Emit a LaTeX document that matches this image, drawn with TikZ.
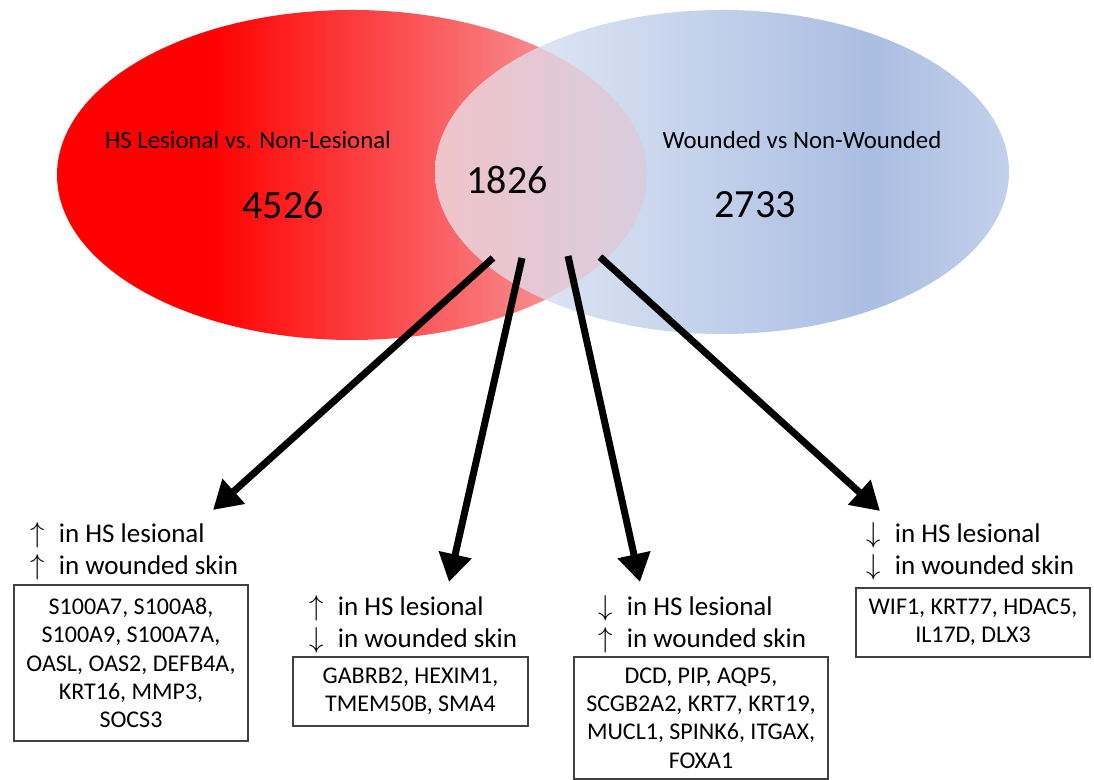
\documentclass[tikz,border=0pt]{standalone}
\usepackage{fontspec}
\setmainfont{Carlito}
\usepackage{xcolor}
\usepackage{tikz}
\usetikzlibrary{arrows.meta}

\definecolor{lesionred}{RGB}{255,0,0}
\definecolor{lesionpink}{RGB}{245,182,186}
\definecolor{woundlight}{RGB}{236,240,249}
\definecolor{wounddark}{RGB}{170,190,226}
\definecolor{woundedge}{RGB}{194,208,235}

\pgfdeclarehorizontalshading{lesionfade}{100bp}{color(0bp)=(lesionred); color(38bp)=(lesionred); color(75bp)=(lesionpink); color(100bp)=(lesionpink)}
\pgfdeclarehorizontalshading{woundfade}{100bp}{color(0bp)=(woundlight); color(25bp)=(woundlight); color(63bp)=(wounddark); color(75bp)=(woundedge); color(100bp)=(woundedge)}

\newcommand{\trup}{$\uparrow$\hspace{4pt} }
\newcommand{\trdown}{$\downarrow$\hspace{4pt} }

\tikzset{
  setlabel/.style={font=\fontsize{12.4}{14}\selectfont},
  setcount/.style={font=\fontsize{20}{24}\selectfont},
  trendlabel/.style={anchor=west, align=left, inner sep=0pt, font=\fontsize{13.5}{16}\selectfont},
  genebox/.style={draw=black!75, line width=0.6pt, align=center, inner sep=2pt, font=\fontsize{12}{14.2}\selectfont},
  fatarrow/.style={line width=3.5pt, -{Triangle[length=14pt,width=16pt]}}
}

\begin{document}
\begin{tikzpicture}[x=0.5pt, y=0.5pt]
    \useasboundingbox (0,0) rectangle (1094,780);

    % Venn sets, red seen through the blue one
    \shade[shading=lesionfade] (352,605) ellipse [x radius=147.5pt, y radius=82.5pt];
    \shade[shading=woundfade] (722,608) ellipse [x radius=143.5pt, y radius=81pt];
    \begin{scope}
        \clip (722,608) ellipse [x radius=143.5pt, y radius=81pt];
        \shade[shading=lesionfade, fill opacity=0.3] (352,605) ellipse [x radius=147.5pt, y radius=82.5pt];
    \end{scope}

    \node[setlabel] (hslabel) at (248,640) {HS Lesional vs. Non-Lesional};
    \node[setcount] (hscount) at (283,575) {4526};
    \node[setcount] (both) at (507,600) {1826};
    \node[setlabel] (woundlabel) at (802,640) {Wounded vs Non-Wounded};
    \node[setcount] (woundcount) at (755,575) {2733};

    % Direction groups
    \node[trendlabel] (upup) at (30,229) {\trup in HS lesional\\\trup in wounded skin};
    \node[trendlabel] (updown) at (309,156) {\trup in HS lesional\\\trdown in wounded skin};
    \node[trendlabel] (downup) at (598,156) {\trdown in HS lesional\\\trup in wounded skin};
    \node[trendlabel] (downdown) at (866,229) {\trdown in HS lesional\\\trdown in wounded skin};

    % Gene lists
    \node[genebox, minimum width=117pt, minimum height=78pt] (upupgenes) at (131,117)
        {S100A7, S100A8,\\S100A9, S100A7A,\\OASL, OAS2, DEFB4A,\\KRT16, MMP3,\\SOCS3};
    \node[genebox, minimum width=117.5pt, minimum height=34.5pt] (updowngenes) at (410.5,88.5)
        {GABRB2, HEXIM1,\\TMEM50B, SMA4};
    \node[genebox, minimum width=127pt, minimum height=61pt] (downupgenes) at (701,62)
        {DCD, PIP, AQP5,\\SCGB2A2, KRT7, KRT19,\\MUCL1, SPINK6, ITGAX,\\FOXA1};
    \node[genebox, minimum width=117pt, minimum height=34.5pt] (downdowngenes) at (973,157.5)
        {WIF1, KRT77, HDAC5,\\IL17D, DLX3};

    % Arrows out of the overlap
    \coordinate (s1) at (493,522);
    \coordinate (s2) at (522,522);
    \coordinate (s3) at (568,524);
    \coordinate (s4) at (600,523);
    \coordinate (t1) at (213,270);
    \coordinate (t2) at (449,198);
    \coordinate (t3) at (640,198);
    \coordinate (t4) at (880,269);
    \draw[fatarrow] (s1) -- (t1);
    \draw[fatarrow] (s2) -- (t2);
    \draw[fatarrow] (s3) -- (t3);
    \draw[fatarrow] (s4) -- (t4);
\end{tikzpicture}
\end{document}
